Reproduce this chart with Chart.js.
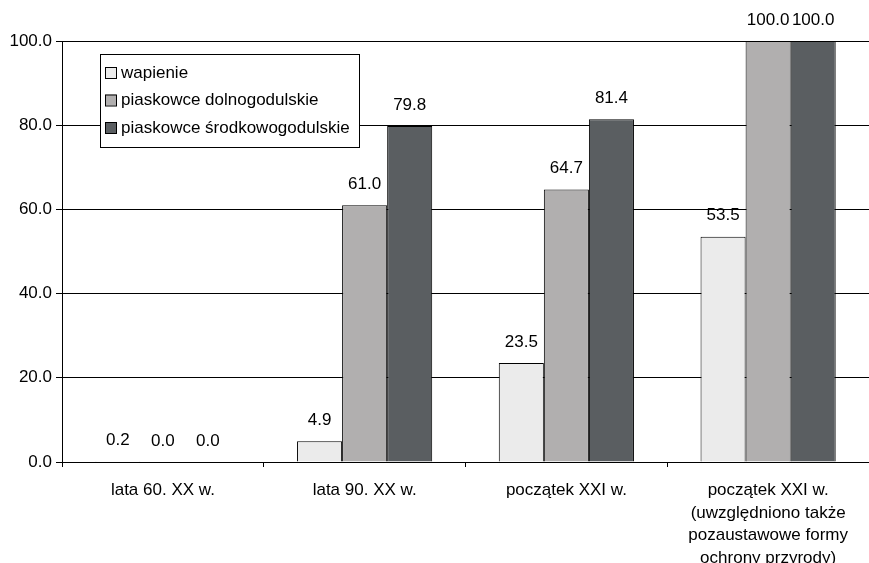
<!DOCTYPE html>
<html>
<head>
<meta charset="utf-8">
<script src="https://cdn.jsdelivr.net/npm/chart.js@4/dist/chart.umd.min.js"></script>
<style>
  body { margin: 0; background: #fff; }
  #wrap { width: 869px; height: 563px; }
</style>
</head>
<body>
<div id="wrap"><canvas id="chart"></canvas></div>
<script>
// kategorie (okresy)
const categories = [
    'lata 60. XX w.',
    'lata 90. XX w.',
    'początek XXI w.',
    ['początek XXI w.', '(uwzględniono także', 'pozaustawowe formy', 'ochrony przyrody)']
];
const seriesNames = ['wapienie', 'piaskowce dolnogodulskie', 'piaskowce środkowogodulskie'];
const wapienie = [0.2, 4.9, 23.5, 53.5];
const dolnogodulskie = [0.0, 61.0, 64.7, 100.0];
const srodkowogodulskie = [0.0, 79.8, 81.4, 100.0];
const yTicks = [0, 20, 40, 60, 80, 100];

const colors = ['#ebebeb', '#b1afaf', '#5a5e61'];
const FONT = 'Liberation Sans, Arial, sans-serif';
const FS = 17;

// etykiety wartosci nad slupkami
const valueLabels = {
    id: 'valueLabels',
    afterDatasetsDraw(chart) {
        const ctx = chart.ctx;
        ctx.save();
        ctx.font = FS + 'px ' + FONT;
        ctx.fillStyle = '#000';
        ctx.textAlign = 'center';
        ctx.textBaseline = 'middle';
        chart.data.datasets.forEach((ds, i) => {
            chart.getDatasetMeta(i).data.forEach((el, j) => {
                ctx.fillText(ds.data[j].toFixed(1), el.x, el.y - 21);
            });
        });
        ctx.restore();
    }
};

// legenda w ramce wewnatrz wykresu
const boxLegend = {
    id: 'boxLegend',
    afterDraw(chart) {
        const ctx = chart.ctx;
        ctx.save();
        ctx.fillStyle = '#fff';
        ctx.fillRect(100, 54, 259, 93);
        ctx.strokeStyle = '#000';
        ctx.lineWidth = 1;
        ctx.strokeRect(100.5, 54.5, 259, 93);
        ctx.font = FS + 'px ' + FONT;
        ctx.textBaseline = 'middle';
        chart.data.datasets.forEach((ds, i) => {
            const y = 72 + i * 27.5;
            ctx.fillStyle = ds.backgroundColor;
            ctx.fillRect(105, y - 5, 11, 11);
            ctx.strokeStyle = '#000';
            ctx.strokeRect(105.5, y - 4.5, 11, 11);
            ctx.fillStyle = '#000';
            ctx.fillText(ds.label, 121, y + 1);
        });
        ctx.restore();
    }
};

new Chart(document.getElementById('chart'), {
    type: 'bar',
    data: {
        labels: categories,
        datasets: [
            { label: seriesNames[0], data: wapienie, backgroundColor: colors[0] },
            { label: seriesNames[1], data: dolnogodulskie, backgroundColor: colors[1] },
            { label: seriesNames[2], data: srodkowogodulskie, backgroundColor: colors[2] }
        ].map(d => Object.assign(d, {
            borderColor: '#000',
            borderWidth: 1,
            categoryPercentage: 0.67,
            barPercentage: 1.0
        }))
    },
    options: {
        responsive: true,
        maintainAspectRatio: false,
        animation: false,
        layout: { padding: { top: 41, right: 0, bottom: 0, left: 0 } },
        plugins: {
            legend: { display: false },
            tooltip: { enabled: false }
        },
        scales: {
            x: {
                afterFit: s => { s.height = 101; },
                grid: { drawOnChartArea: false, color: '#000', tickLength: 5, offset: true },
                border: { color: '#000', width: 1 },
                ticks: { color: '#000', font: { family: FONT, size: FS, lineHeight: 1.33 }, padding: 12, maxRotation: 0 }
            },
            y: {
                min: 0,
                max: 100,
                afterFit: s => { s.width = 62; },
                afterBuildTicks: s => { s.ticks = yTicks.map(v => ({ value: v })); },
                grid: { color: '#000', tickLength: 6 },
                border: { color: '#000', width: 1 },
                ticks: {
                    color: '#000',
                    padding: 4,
                    font: { family: FONT, size: FS },
                    callback: v => v.toFixed(1)
                }
            }
        }
    },
    plugins: [valueLabels, boxLegend]
});
</script>
</body>
</html>
